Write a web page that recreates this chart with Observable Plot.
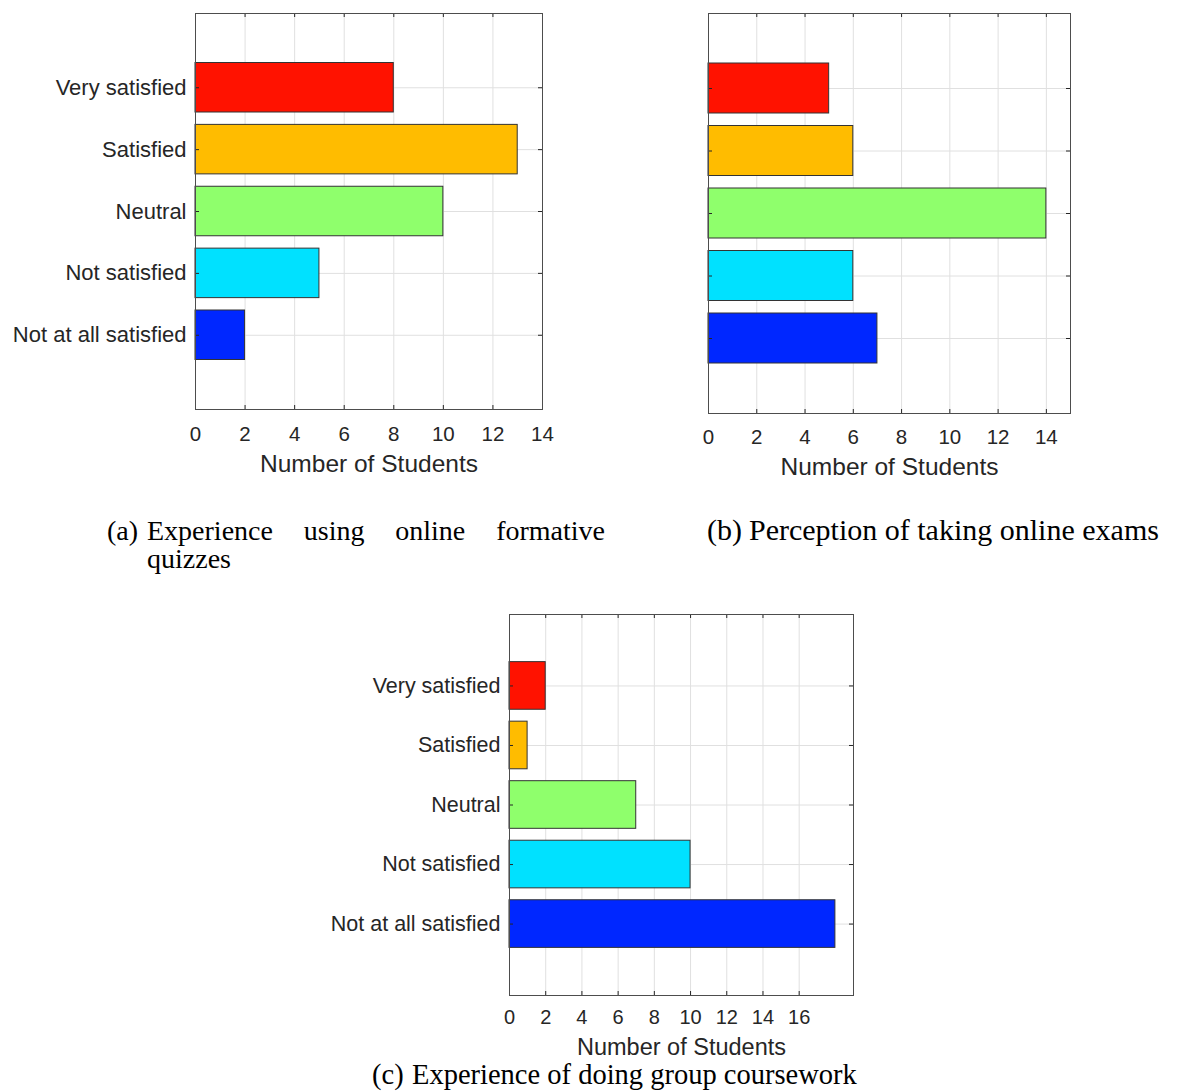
<!DOCTYPE html>
<html>
<head>
<meta charset="utf-8">
<script src="https://cdn.jsdelivr.net/npm/d3@7"></script>
<script src="https://cdn.jsdelivr.net/npm/@observablehq/plot@0.6"></script>
<style>
  body { margin: 0; background: #fff; }
  #page { position: relative; width: 1188px; height: 1092px; background: #fff; overflow: hidden; }
  .panel { position: absolute; }
  .panel svg { overflow: visible; }
  .cap {
    position: absolute;
    font-family: "Liberation Serif", "Times New Roman", serif;
    font-size: 28px;
    line-height: 28px;
    color: #000;
    white-space: normal;
  }
</style>
</head>
<body>
<div id="page"></div>
<script>
// Satisfaction levels, bottom to top (barh order)
const levels = ["Not at all satisfied", "Not satisfied", "Neutral", "Satisfied", "Very satisfied"];
const levelColors = ["#0027ff", "#00e1ff", "#8fff6c", "#ffbc00", "#ff1200"];

// Number of students per level
const quizCounts = [2, 5, 10, 13, 8];
const examCounts = [7, 6, 14, 6, 5];
const courseworkCounts = [18, 10, 7, 1, 2];

// Tick values
const quizTicks = [0, 2, 4, 6, 8, 10, 12, 14];
const examTicks = [0, 2, 4, 6, 8, 10, 12, 14];
const courseworkTicks = [0, 2, 4, 6, 8, 10, 12, 14, 16];
const levelPositions = [1, 2, 3, 4, 5];

const xLabel = "Number of Students";
const captions = {
  a: ["(a)", "Experience using online formative quizzes"],
  b: ["(b)", "Perception of taking online exams"],
  c: ["(c)", "Experience of doing group coursework"]
};

const ink = "#262626";
const gridColor = "#e0e0e0";

function panel({counts, xMax, xTicks, showLevels, width, height, ml, mr, mt, mb,
                tickGap, labelGap, tickSize, levelSize, labelSize}) {
  const rows = levels.map((level, i) => ({level, pos: levelPositions[i], count: counts[i]}));
  const innerH = height - mt - mb;
  const innerW = width - ml - mr;
  return Plot.plot({
    width, height,
    marginLeft: ml, marginRight: mr, marginTop: mt, marginBottom: mb,
    style: {fontFamily: "'Liberation Sans', Arial, sans-serif", fontSize: "20px", color: ink, background: "transparent"},
    x: {domain: [0, xMax], axis: null},
    y: {domain: [-0.2, 6.2], axis: null},
    color: {domain: levels, range: levelColors},
    marks: [
      Plot.gridX(xTicks, {stroke: gridColor, strokeOpacity: 1}),
      Plot.gridY(levelPositions, {stroke: gridColor, strokeOpacity: 1}),
      Plot.rect(rows, {
        x1: 0, x2: "count",
        y1: d => d.pos - 0.4, y2: d => d.pos + 0.4,
        fill: "level", stroke: "#333", strokeWidth: 1
      }),
      // inward ticks on all four sides
      Plot.tickX(xTicks, {x: d => d, insetTop: innerH - 4, stroke: ink}),
      Plot.tickX(xTicks, {x: d => d, insetBottom: innerH - 4, stroke: ink}),
      Plot.tickY(levelPositions, {y: d => d, insetRight: innerW - 4, stroke: ink}),
      Plot.tickY(levelPositions, {y: d => d, insetLeft: innerW - 4, stroke: ink}),
      Plot.frame({stroke: "#4d4d4d", strokeWidth: 1}),
      Plot.text(xTicks, {x: d => d, frameAnchor: "bottom", lineAnchor: "middle", dy: tickGap,
        text: d => String(d), fontSize: tickSize, fill: ink}),
      showLevels
        ? Plot.text(rows, {y: "pos", frameAnchor: "left", dx: -9, textAnchor: "end",
            text: "level", fontSize: levelSize, fill: ink})
        : null,
      Plot.text([xLabel], {frameAnchor: "bottom", lineAnchor: "middle", dy: labelGap,
        text: d => d, fontSize: labelSize, fill: ink})
    ]
  });
}

function place(node, left, top) {
  const div = document.createElement("div");
  div.className = "panel";
  div.style.left = left + "px";
  div.style.top = top + "px";
  div.appendChild(node);
  document.getElementById("page").appendChild(div);
}

function caption(parts, {left, top, width, size, indent = 40}) {
  const div = document.createElement("div");
  div.className = "cap";
  div.style.left = left + "px";
  div.style.top = top + "px";
  if (size) div.style.fontSize = size + "px";
  if (width) {
    div.style.width = width + "px";
    div.style.textAlign = "justify";
    div.style.paddingLeft = indent + "px";
    div.style.textIndent = -indent + "px";
    div.style.boxSizing = "border-box";
    div.innerHTML = `<span style="display:inline-block;width:${indent}px;text-indent:0">${parts[0]}</span>${parts[1]}`;
  } else {
    div.style.whiteSpace = "nowrap";
    div.innerHTML = `<span style="display:inline-block;width:${indent}px">${parts[0]}</span>${parts[1]}`;
  }
  document.getElementById("page").appendChild(div);
}

place(panel({counts: quizCounts, xMax: 14, xTicks: quizTicks, showLevels: true,
  width: 570, height: 490, ml: 195, mr: 28, mt: 13, mb: 81,
  tickGap: 25, labelGap: 55, tickSize: 20.5, levelSize: 22, labelSize: 24.5}), 0, 0);

place(panel({counts: examCounts, xMax: 15, xTicks: examTicks, showLevels: false,
  width: 500, height: 490, ml: 108, mr: 30, mt: 13, mb: 77,
  tickGap: 24, labelGap: 54, tickSize: 20.5, levelSize: 22, labelSize: 24.5}), 600, 0);

place(panel({counts: courseworkCounts, xMax: 19, xTicks: courseworkTicks, showLevels: true,
  width: 580, height: 480, ml: 209, mr: 27, mt: 14, mb: 85,
  tickGap: 22, labelGap: 52, tickSize: 20, levelSize: 21.5, labelSize: 23.5}), 300, 600);

caption(captions.a, {left: 107, top: 517, width: 498, size: 28, indent: 40});
caption(captions.b, {left: 707, top: 516, size: 30, indent: 42});
caption(captions.c, {left: 372, top: 1061, size: 28.5, indent: 40});
</script>
</body>
</html>
